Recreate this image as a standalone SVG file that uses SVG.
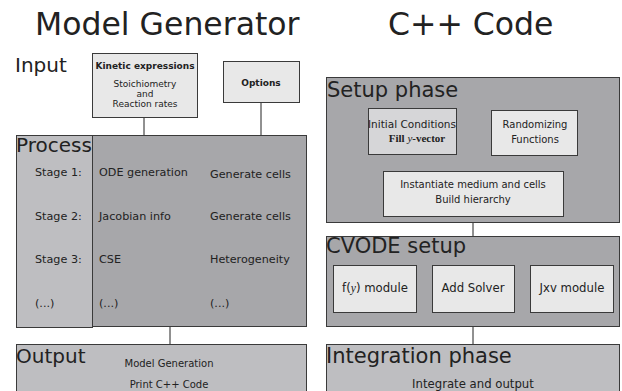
<svg xmlns="http://www.w3.org/2000/svg" width="622" height="391" viewBox="0 0 622 391">
<style>
text{font-family:"DejaVu Sans",sans-serif;fill:#222}
.title{font-size:31.5px}
.sec{font-size:20px}
.secr{font-size:21px}
.lbl{font-size:11.2px}
.sl{font-size:10px}
.cl{font-size:11.7px}
.sm{font-size:9px}
.b{font-weight:bold}
.box{stroke:#3a3a3a;stroke-width:1}
.light{fill:#e8e8e8}
.mid{fill:#bebec1}
.dark{fill:#a7a7aa}
.ic{fill:#d6d6d8}
.conn line{stroke:#222;stroke-width:1}
.m{text-anchor:middle}
</style>
<rect width="622" height="391" fill="#fff"/>
<text class="title" x="35" y="35">Model Generator</text>
<text class="title" x="388" y="35">C++ Code</text>
<text class="sec" x="15" y="72">Input</text>

<g class="conn">
<line x1="144" y1="117" x2="144" y2="135"/>
<line x1="261" y1="102" x2="261" y2="135"/>
<line x1="170" y1="327" x2="170" y2="344"/>
<line x1="457" y1="143" x2="491" y2="143"/>
<line x1="473" y1="143" x2="473" y2="171"/>
<line x1="473" y1="223" x2="473" y2="236"/>
<line x1="417" y1="288" x2="432" y2="288"/>
<line x1="515" y1="288" x2="530" y2="288"/>
<line x1="473" y1="327" x2="473" y2="344"/>
</g>

<g id="kinetic">
<rect class="box light" x="92.5" y="53.5" width="105" height="64"/>
<text class="sm b m" x="145" y="69">Kinetic expressions</text>
<text class="sm m" x="145" y="87">Stoichiometry</text>
<text class="sm m" x="145" y="97">and</text>
<text class="sm m" x="145" y="107">Reaction rates</text>
</g>
<g id="options">
<rect class="box light" x="223.5" y="61.5" width="76" height="41"/>
<text class="sm b m" x="261" y="86">Options</text>
</g>

<g id="process">
<rect class="box mid" x="16.5" y="135.5" width="76" height="192"/>
<rect class="box dark" x="92.5" y="135.5" width="214" height="191"/>
<text class="sec" x="16" y="152">Process</text>
<text class="lbl" x="35" y="176">Stage 1:</text>
<text class="lbl" x="99" y="176">ODE generation</text>
<text class="lbl" x="210" y="178">Generate cells</text>
<text class="lbl" x="35" y="220">Stage 2:</text>
<text class="lbl" x="99" y="220">Jacobian info</text>
<text class="lbl" x="210" y="220">Generate cells</text>
<text class="lbl" x="35" y="263">Stage 3:</text>
<text class="lbl" x="99" y="263">CSE</text>
<text class="lbl" x="210" y="263">Heterogeneity</text>
<text class="lbl" x="35" y="307">(...)</text>
<text class="lbl" x="99" y="307">(...)</text>
<text class="lbl" x="210" y="307">(...)</text>
</g>

<g id="output">
<rect class="box mid" x="16.5" y="344.5" width="290" height="60"/>
<text class="sec" x="16" y="363">Output</text>
<text class="sl m" x="169" y="367">Model Generation</text>
<text class="sl m" x="169" y="388">Print C++ Code</text>
</g>

<g id="setup">
<rect class="box dark" x="326.5" y="77.5" width="293" height="145"/>
<text class="secr" x="327" y="97">Setup phase</text>
</g>
<g id="initial">
<rect class="box ic" x="368.5" y="108.5" width="88" height="46"/>
<text class="m" x="412" y="128" style="font-size:10.5px">Initial Conditions</text>
<text x="417" y="142" style="font-family:'Liberation Serif',serif;font-size:11px;font-weight:bold" text-anchor="middle">Fill <tspan font-style="italic" font-weight="normal">y</tspan>-vector</text>
</g>
<g id="random">
<rect class="box light" x="491.5" y="110.5" width="86" height="45"/>
<text class="sl m" x="535" y="128">Randomizing</text>
<text class="sl m" x="535" y="143">Functions</text>
</g>
<g id="instantiate">
<rect class="box light" x="383.5" y="171.5" width="180" height="45"/>
<text class="sl m" x="473" y="188">Instantiate medium and cells</text>
<text class="sl m" x="473" y="203">Build hierarchy</text>
</g>

<g id="cvode">
<rect class="box dark" x="326.5" y="236.5" width="293" height="90"/>
<text class="secr" x="326" y="253">CVODE setup</text>
</g>
<g id="fy">
<rect class="box light" x="333.5" y="265.5" width="83" height="47"/>
<text class="cl m" x="375" y="292">f(<tspan font-family="Liberation Serif,serif" font-style="italic">y</tspan>) module</text>
</g>
<g id="solver">
<rect class="box light" x="432.5" y="265.5" width="82" height="47"/>
<text class="cl m" x="473" y="292">Add Solver</text>
</g>
<g id="jxv">
<rect class="box light" x="530.5" y="265.5" width="83" height="47"/>
<text class="cl m" x="572" y="292">Jxv module</text>
</g>

<g id="integration">
<rect class="box mid" x="326.5" y="344.5" width="293" height="60"/>
<text class="secr" x="326" y="363">Integration phase</text>
<text class="cl m" x="473" y="388">Integrate and output</text>
</g>
</svg>
